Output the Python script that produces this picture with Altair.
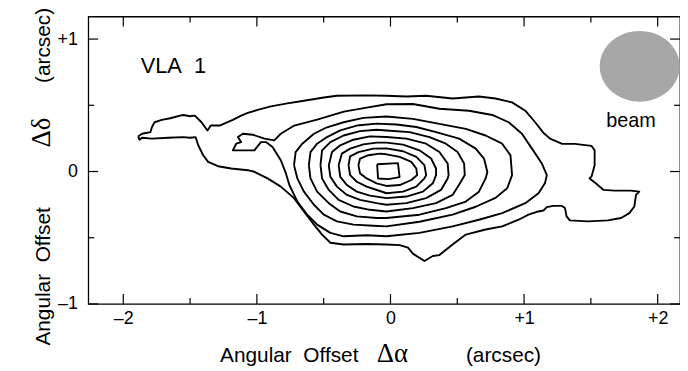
import altair as alt
import pandas as pd

# ---- contour levels (arcsec offsets) ----
LEVEL_1 = [(-1.889,0.265),(-1.860,0.285),(-1.797,0.297),(-1.786,0.334),(-1.766,0.372),(-1.711,0.390),
           (-1.649,0.402),(-1.575,0.422),(-1.550,0.427),(-1.501,0.417),(-1.464,0.422),(-1.415,0.372),
           (-1.370,0.310),(-1.345,0.347),(-1.278,0.347),(-1.241,0.364),(-1.180,0.390),(-1.118,0.422),
           (-1.068,0.442),(-0.994,0.465),(-0.895,0.492),(-0.772,0.514),(-0.648,0.534),(-0.499,0.559),
           (-0.401,0.572),(-0.178,0.575),(-0.030,0.572),(0.119,0.566),(0.267,0.572),(0.465,0.551),
           (0.662,0.566),(0.786,0.551),(0.910,0.522),(1.009,0.459),(1.083,0.372),(1.142,0.295),
           (1.194,0.248),(1.281,0.210),(1.380,0.209),(1.504,0.194),(1.528,0.160),(1.528,0.048),
           (1.506,-0.034),(1.491,-0.052),(1.543,-0.094),(1.595,-0.139),(1.677,-0.144),(1.800,-0.144),
           (1.862,-0.152),(1.838,-0.177),(1.825,-0.264),(1.788,-0.314),(1.726,-0.351),(1.627,-0.369),
           (1.478,-0.376),(1.343,-0.369),(1.318,-0.339),(1.306,-0.276),(1.281,-0.259),(1.219,-0.259),
           (1.170,-0.269),(1.145,-0.294),(1.096,-0.304),(1.033,-0.326),(0.959,-0.364),(0.836,-0.414),
           (0.712,-0.438),(0.564,-0.476),(0.465,-0.551),(0.366,-0.631),(0.317,-0.638),(0.254,-0.676),
           (0.168,-0.620),(0.131,-0.575),(0.069,-0.556),(-0.030,-0.551),(-0.178,-0.547),(-0.351,-0.551),
           (-0.450,-0.538),(-0.512,-0.476),(-0.573,-0.401),(-0.648,-0.302),(-0.722,-0.201),(-0.821,-0.114),
           (-0.920,-0.052),(-1.019,-0.002),(-1.068,0.010),(-1.192,0.023),(-1.291,0.040),(-1.365,0.073),
           (-1.402,0.123),(-1.439,0.198),(-1.459,0.260),(-1.501,0.255),(-1.550,0.260),(-1.662,0.255),
           (-1.786,0.248),(-1.860,0.255),(-1.879,0.240),(-1.889,0.265)]

LEVEL_2 = [(-0.821,0.285),(-0.720,0.347),(-0.549,0.392),(-0.349,0.452),(-0.178,0.482),(-0.030,0.508),
           (0.168,0.510),(0.366,0.474),(0.588,0.459),(0.762,0.427),(0.885,0.372),(0.984,0.285),
           (1.059,0.173),(1.133,0.061),(1.170,-0.027),(1.157,-0.087),(1.108,-0.164),(1.009,-0.239),
           (0.836,-0.314),(0.662,-0.364),(0.465,-0.414),(0.217,-0.463),(-0.030,-0.489),(-0.178,-0.481),
           (-0.351,-0.489),(-0.450,-0.463),(-0.549,-0.401),(-0.623,-0.326),(-0.697,-0.227),(-0.757,-0.102),
           (-0.786,-0.004),(-0.821,0.085),(-0.883,0.185),(-0.932,0.222),(-0.970,0.222),(-1.019,0.160),
           (-1.180,0.160),(-1.155,0.210),(-1.118,0.222),(-1.142,0.260),(-1.105,0.285),(-1.031,0.278),
           (-0.944,0.248),(-0.870,0.235),(-0.821,0.285)]

LEVEL_3 = [(-0.722,0.048),(-0.710,0.147),(-0.660,0.210),(-0.573,0.285),(-0.475,0.334),(-0.351,0.372),
           (-0.203,0.405),(-0.030,0.415),(0.168,0.397),(0.366,0.360),(0.564,0.322),(0.712,0.272),
           (0.836,0.210),(0.898,0.123),(0.910,-0.027),(0.875,-0.124),(0.786,-0.199),(0.638,-0.266),
           (0.465,-0.326),(0.217,-0.379),(-0.030,-0.414),(-0.128,-0.409),(-0.277,-0.401),(-0.401,-0.376),
           (-0.499,-0.326),(-0.573,-0.251),(-0.648,-0.152),(-0.697,-0.052),(-0.722,0.048)]

LEVEL_4 = [(-0.611,0.048),(-0.599,0.147),(-0.549,0.210),(-0.475,0.260),(-0.376,0.310),(-0.252,0.347),
           (-0.104,0.362),(0.045,0.355),(0.193,0.336),(0.341,0.297),(0.514,0.248),(0.638,0.173),
           (0.700,0.098),(0.725,-0.004),(0.712,-0.052),(0.662,-0.152),(0.564,-0.227),(0.415,-0.276),
           (0.217,-0.326),(-0.030,-0.351),(-0.104,-0.351),(-0.252,-0.339),(-0.376,-0.302),(-0.462,-0.239),
           (-0.549,-0.152),(-0.599,-0.052),(-0.611,0.048)]

LEVEL_5 = [(-0.524,0.048),(-0.512,0.160),(-0.450,0.222),(-0.351,0.272),(-0.228,0.305),(-0.104,0.315),
           (-0.030,0.310),(0.143,0.297),(0.292,0.260),(0.415,0.210),(0.502,0.147),(0.551,0.061),
           (0.556,-0.027),(0.527,-0.077),(0.465,-0.177),(0.341,-0.239),(0.168,-0.276),(-0.030,-0.302),
           (-0.154,-0.289),(-0.277,-0.264),(-0.388,-0.214),(-0.462,-0.139),(-0.512,-0.052),(-0.524,0.048)]

LEVEL_6 = [(-0.462,0.048),(-0.455,0.073),(-0.438,0.147),(-0.376,0.198),(-0.277,0.240),(-0.154,0.265),
           (-0.030,0.261),(0.119,0.248),(0.267,0.210),(0.366,0.147),(0.428,0.061),(0.435,-0.027),
           (0.428,-0.052),(0.378,-0.139),(0.267,-0.201),(0.119,-0.239),(-0.030,-0.251),(-0.104,-0.239),
           (-0.228,-0.214),(-0.326,-0.177),(-0.401,-0.114),(-0.450,-0.040),(-0.462,0.048)]

LEVEL_7 = [(-0.388,0.048),(-0.381,0.073),(-0.364,0.135),(-0.302,0.173),(-0.203,0.205),(-0.104,0.218),
           (-0.030,0.218),(0.094,0.203),(0.217,0.160),(0.304,0.098),(0.341,0.023),(0.341,-0.027),
           (0.317,-0.089),(0.243,-0.152),(0.119,-0.189),(-0.030,-0.201),(-0.154,-0.182),(-0.252,-0.152),
           (-0.326,-0.102),(-0.376,-0.040),(-0.388,0.048)]

LEVEL_8 = [(-0.314,0.048),(-0.302,0.115),(-0.240,0.147),(-0.128,0.173),(-0.030,0.175),(0.094,0.153),
           (0.193,0.110),(0.254,0.048),(0.267,-0.027),(0.254,-0.052),(0.193,-0.114),(0.094,-0.152),
           (-0.030,-0.164),(-0.079,-0.147),(-0.178,-0.114),(-0.252,-0.077),(-0.302,-0.027),(-0.314,0.048)]

LEVEL_9 = [(-0.240,0.048),(-0.228,0.098),(-0.165,0.123),(-0.079,0.135),(-0.030,0.130),(0.069,0.110),
           (0.156,0.073),(0.193,0.023),(0.200,-0.027),(0.156,-0.064),(0.069,-0.102),(-0.030,-0.109),
           (-0.104,-0.089),(-0.178,-0.052),(-0.228,-0.014),(-0.240,0.048)]

LEVEL_10 = [(-0.100,0.055),(0.056,0.063),(0.068,-0.042),(-0.015,-0.057),(-0.093,-0.053),(-0.100,0.055)]

LEVELS = [LEVEL_1, LEVEL_2, LEVEL_3, LEVEL_4, LEVEL_5, LEVEL_6, LEVEL_7, LEVEL_8, LEVEL_9, LEVEL_10]

X_TICKS = [-2, -1, 0, 1, 2]
X_MINOR = [-1.5, -0.5, 0.5, 1.5]
Y_TICKS = [-1, 0, 1]
Y_MINOR = [-0.5, 0.5]

BEAM = {"x": 1.865, "y": 0.794}
LABELS = pd.DataFrame({"x": [-1.87, 1.80], "y": [0.744, 0.334], "t": ["VLA\u00a0\u00a01", "beam"]})

rows = []
for k, lev in enumerate(LEVELS):
    for i, (x, y) in enumerate(lev):
        rows.append({"x": x, "y": y, "level": k, "i": i})
df = pd.DataFrame(rows)

W, H = 597, 290
XD = [-2.262, 2.167]
YD = [-1.0, 1.17]
FONT = "Liberation Sans"

label_expr = "datum.value > 0 ? '+' + datum.value : (datum.value < 0 ? '\u2013' + (-datum.value) : '0')"
xaxis = alt.Axis(values=X_TICKS, labelExpr=label_expr, ticks=False, domain=False, grid=False,
                 labelFontSize=18, labelFont=FONT, labelColor="black", labelPadding=6, title=None)
yaxis = alt.Axis(values=Y_TICKS, labelExpr=label_expr, ticks=False, domain=False, grid=False,
                 labelFontSize=18, labelFont=FONT, labelColor="black", labelPadding=11, title=None)
xs = alt.Scale(domain=XD, nice=False, zero=False)
ys = alt.Scale(domain=YD, nice=False, zero=False)

def X(f="x"):
    return alt.X(f"{f}:Q", scale=xs, axis=xaxis, title=None)

def Y(f="y"):
    return alt.Y(f"{f}:Q", scale=ys, axis=yaxis, title=None)

contours = alt.Chart(df).mark_line(color="black", strokeWidth=1.9, strokeJoin="round").encode(
    x=X(), y=Y(), detail="level:N", order="i:Q")

beam = alt.Chart(pd.DataFrame([BEAM])).mark_point(
    shape="M-1,0A1,0.885,0,1,1,1,0A1,0.885,0,1,1,-1,0Z", size=6500, filled=True,
    fill="#a7a7a7", stroke=None, opacity=1).encode(x=X(), y=Y())

vla = alt.Chart(LABELS.iloc[[0]]).mark_text(align="left", baseline="alphabetic", fontSize=22,
                                            font=FONT, color="black").encode(x=X(), y=Y(), text="t:N")
beamlab = alt.Chart(LABELS.iloc[[1]]).mark_text(align="center", baseline="alphabetic", fontSize=20,
                                                font=FONT, color="black").encode(x=X(), y=Y(), text="t:N")

def xticks(vals, length):
    d = pd.DataFrame({"x": vals})
    b = alt.Chart(d).mark_rule(color="black", strokeWidth=1.2).encode(
        x=X(), y=alt.value(H), y2=alt.value(H - length))
    t = alt.Chart(d).mark_rule(color="black", strokeWidth=1.2).encode(
        x=X(), y=alt.value(0), y2=alt.value(length))
    return [b, t]

def yticks(vals, length):
    d = pd.DataFrame({"y": vals})
    l = alt.Chart(d).mark_rule(color="black", strokeWidth=1.2).encode(
        y=Y(), x=alt.value(0), x2=alt.value(length))
    r = alt.Chart(d).mark_rule(color="black", strokeWidth=1.2).encode(
        y=Y(), x=alt.value(W), x2=alt.value(W - length))
    return [l, r]

one = pd.DataFrame({"k": [0]})

def txt(s, x, y, angle=0, font=FONT, size=21):
    kw = dict(text=s, align="left", baseline="alphabetic", fontSize=size, font=font, color="black")
    if angle:
        kw["angle"] = angle
    return alt.Chart(one).mark_text(**kw).encode(x=alt.value(x), y=alt.value(y))

titles = [
    txt("Angular\u00a0\u00a0Offset", 133, 349),
    txt("\u0394\u03b1", 291, 349, font="Liberation Serif", size=27),
    txt("(arcsec)", 381, 349),
    txt("Angular\u00a0\u00a0Offset", -39, 332, angle=270),
    txt("\u0394\u03b4", -39, 132, angle=270, font="Liberation Serif", size=27),
    txt("(arcsec)", -39, 67, angle=270),
]

layers = [contours, beam, vla, beamlab] + xticks(X_TICKS, 10) + xticks(X_MINOR, 6) \
    + yticks(Y_TICKS, 10) + yticks(Y_MINOR, 6) + titles

chart = alt.layer(*layers).properties(
    width=W, height=H,
    autosize=alt.AutoSizeParams(type="none"),
    padding={"left": 81, "top": 7, "right": 0, "bottom": 66},
).configure_view(stroke="black", strokeWidth=1.3)

chart.save("out.html", embed_options={"renderer": "svg", "actions": False})
